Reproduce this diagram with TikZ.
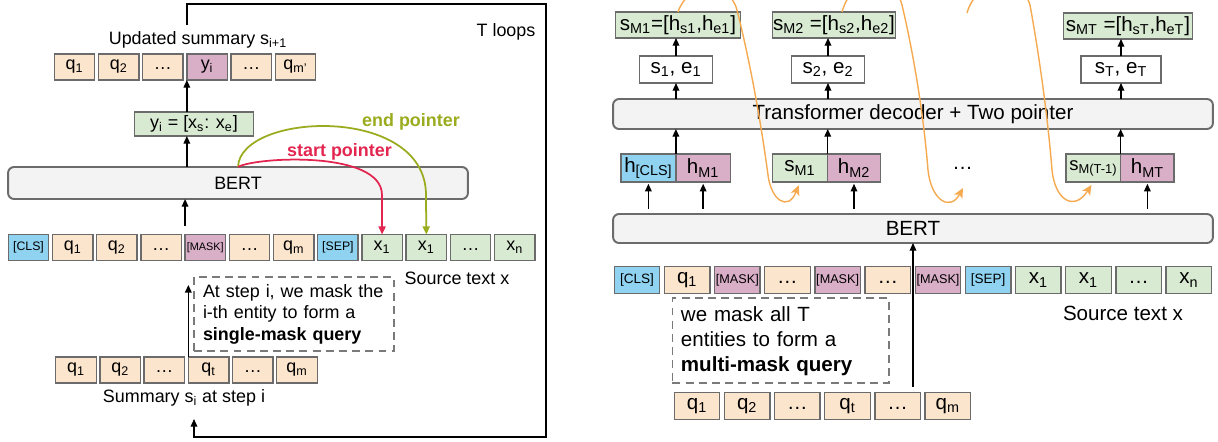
\documentclass[tikz,border=0pt]{standalone}
\usepackage{fontspec}
\setmainfont{Liberation Sans}
\usetikzlibrary{arrows.meta}
\usetikzlibrary{math}
\usetikzlibrary{positioning}

\definecolor{cpeach}{HTML}{FCE5CD}
\definecolor{cplum}{HTML}{D9AFC8}
\definecolor{csky}{HTML}{8FD3F1}
\definecolor{cmint}{HTML}{D9EAD3}
\definecolor{cgrey}{HTML}{F3F3F3}
\definecolor{cedge}{HTML}{6B6B6B}
\definecolor{cdash}{HTML}{7A7A7A}
\definecolor{cred}{HTML}{E3264F}
\definecolor{colive}{HTML}{9AAB1E}
\definecolor{corange}{HTML}{F5AA50}

\newcommand{\fontL}{\fontsize{10.2}{12.2}\selectfont}
\newcommand{\fontR}{\fontsize{11.7}{14.2}\selectfont}
\newcommand{\tagL}{\fontsize{7}{8}\selectfont}
\newcommand{\maskL}{\fontsize{6.2}{7}\selectfont}
\newcommand{\tagR}{\fontsize{7.7}{8}\selectfont}
\newcommand{\maskR}{\fontsize{7.2}{8}\selectfont}
\newcommand{\tsub}[1]{\textsubscript{#1}}
\newcommand{\dotsq}{\vphantom{q\tsub{1}}\dots}

\begin{document}
\begin{tikzpicture}[x=0.02cm, y=-0.02cm]
\tikzset{
  base/.style={draw=cedge, line width=0.8pt, inner sep=0pt, outer sep=0pt, align=center},
  tokl/.style={base, minimum width=0.81cm, minimum height=0.52cm, font=\fontL},
  tokr/.style={base, minimum width=0.91cm, minimum height=0.54cm, font=\fontR},
  hbox/.style={base, minimum height=0.56cm, font=\fontR},
  bar/.style={base, rounded corners=0.12cm, fill=cgrey, line width=1.1pt},
  note/.style={draw=cdash, line width=1pt, dash pattern=on 4.5pt off 3pt, inner ysep=0pt, align=left},
  arr/.style={-{Triangle[length=4.4pt, width=3.8pt]}, line width=0.8pt},
  curl/.style={-{Stealth[length=5.6pt, width=5.2pt, inset=1.4pt]}, draw=corange, line width=0.8pt},
  ptr/.style={-{Triangle[length=4.6pt, width=4pt]}, line width=1pt},
}

\useasboundingbox (0,0) rectangle (1218,441);
\clip (0,0) rectangle (1218,441);

\tikzmath{\p=44.2; \q=50.17;}

% left: single-mask loop
\node[font=\fontL] (upd) at (198, 40) {Updated summary s\tsub{i+1}};
\node[font=\fontL] (tl) at (506, 32) {T loops};

\node[tokl, fill=cpeach] (u1) at (74.5, 67) {q\tsub{1}};
\node[tokl, fill=cpeach] (u2) at ({74.5+\p}, 67) {q\tsub{2}};
\node[tokl, fill=cpeach] (u3) at ({74.5+2*\p}, 67) {\dotsq};
\node[tokl, fill=cplum] (u4) at ({74.5+3*\p}, 67) {y\tsub{i}};
\node[tokl, fill=cpeach] (u5) at ({74.5+4*\p}, 67) {\dotsq};
\node[tokl, fill=cpeach] (u6) at ({74.5+5*\p}, 67) {q\tsub{m'}};

\node[base, fill=cmint, minimum width=2.38cm, minimum height=0.48cm, font=\fontL] (yi) at (194, 124) {y\tsub{i} = [x\tsub{s}: x\tsub{e}]};

\node[bar, minimum width=9.2cm, minimum height=0.64cm, font=\fontL] (lbert) at (238, 183) {BERT};

\node[tokl, fill=csky, font=\tagL] (k1) at (28.5, 247.5) {[CLS]};
\node[tokl, fill=cpeach] (k2) at ({28.5+\p}, 247.5) {q\tsub{1}};
\node[tokl, fill=cpeach] (k3) at ({28.5+2*\p}, 247.5) {q\tsub{2}};
\node[tokl, fill=cpeach] (k4) at ({28.5+3*\p}, 247.5) {\dotsq};
\node[tokl, fill=cplum, font=\maskL] (k5) at ({28.5+4*\p}, 247.5) {[MASK]};
\node[tokl, fill=cpeach] (k6) at ({28.5+5*\p}, 247.5) {\dotsq};
\node[tokl, fill=cpeach] (k7) at ({28.5+6*\p}, 247.5) {q\tsub{m}};
\node[tokl, fill=csky, font=\tagL] (k8) at ({28.5+7*\p}, 247.5) {[SEP]};
\node[tokl, fill=cmint] (k9) at ({28.5+8*\p}, 247.5) {x\tsub{1}};
\node[tokl, fill=cmint] (k10) at ({28.5+9*\p}, 247.5) {x\tsub{1}};
\node[tokl, fill=cmint] (k11) at ({28.5+10*\p}, 247.5) {\dotsq};
\node[tokl, fill=cmint] (k12) at ({28.5+11*\p}, 247.5) {x\tsub{n}};

\node[font=\fontL] (lsrc) at (457, 278) {Source text x};

\node[note, font=\fontL, text width=3.64cm, inner xsep=0.18cm, minimum height=1.48cm] (ldash) at (294, 314)
  {At step i, we mask the\\ i-th entity to form a\\ \textbf{single-mask query}};

\node[tokl, fill=cpeach] (b1) at (76, 370) {q\tsub{1}};
\node[tokl, fill=cpeach] (b2) at ({76+\p}, 370) {q\tsub{2}};
\node[tokl, fill=cpeach] (b3) at ({76+2*\p}, 370) {\dotsq};
\node[tokl, fill=cpeach] (b4) at ({76+3*\p}, 370) {q\tsub{t}};
\node[tokl, fill=cpeach] (b5) at ({76+4*\p}, 370) {\dotsq};
\node[tokl, fill=cpeach] (b6) at ({76+5*\p}, 370) {q\tsub{m}};

\node[font=\fontL] (lsum) at (184, 398) {Summary s\tsub{i} at step i};

\node[font=\fontL\bfseries, text=cred] (stxt) at (339.5, 152) {start pointer};
\node[font=\fontL\bfseries, text=colive] (etxt) at (411, 122) {end pointer};

\coordinate (ltop) at (546, 4);
\coordinate (lbot) at (546, 437);
\coordinate (lpin) at (194, 419);

\draw[arr] (yi.north -| u4.west) -- (u4.south west);
\draw[arr] (lbert.north -| u4.west) -- (yi.south -| u4.west);
\draw[arr, shorten <=5pt] (k5.north west) -- (lbert.south -| k5.north west);
\draw[arr, shorten >=5pt] (b4.north west) -- (b4.north west |- ldash.north);
\draw[arr] (upd.north -| u4.west) |- (ltop) -- (lbot) -| (lpin);

\draw[ptr, draw=colive] (lbert.north) .. controls (240,112) and (426,104) .. (426,195) -- (k10.north);
\draw[ptr, draw=cred] (lbert.north) .. controls (255,157) and (382,150) .. (382,195) -- (k9.north);

% right: multi-mask query
\node[base, fill=cmint, minimum width=2.51cm, minimum height=0.52cm, font=\fontR] (m1) at (678, 25) {s\tsub{M1}=[h\tsub{s1},h\tsub{e1}]};
\node[base, fill=cmint, minimum width=2.45cm, minimum height=0.52cm, font=\fontR] (m2) at (834, 25) {s\tsub{M2} =[h\tsub{s2},h\tsub{e2}]};
\node[base, fill=cmint, minimum width=2.59cm, minimum height=0.52cm, font=\fontR] (m3) at (1128, 26) {s\tsub{MT} =[h\tsub{sT},h\tsub{eT}]};

\node[base, fill=white, minimum width=1.47cm, minimum height=0.54cm, font=\fontR] (e1) at (676, 69.5) {s\tsub{1}, e\tsub{1}};
\node[base, fill=white, minimum width=1.47cm, minimum height=0.54cm, font=\fontR] (e2) at (828, 69.5) {s\tsub{2}, e\tsub{2}};
\node[base, fill=white, minimum width=1.6cm, minimum height=0.54cm, font=\fontR] (e3) at (1121, 69.5) {s\tsub{T}, e\tsub{T}};

\node[bar, minimum width=12cm, minimum height=0.6cm, font=\fontR] (rdec) at (913, 114) {Transformer decoder + Two pointer};

\node[hbox, fill=csky, minimum width=1.1cm] (h1) at (648.4, 168) {h\tsub{[CLS]}};
\node[hbox, fill=cplum, minimum width=1.09cm, right=0pt of h1] (h2) {h\tsub{M1}};
\node[hbox, fill=cmint, minimum width=1.11cm] (h3) at (800, 168) {s\tsub{M1}};
\node[hbox, fill=cplum, minimum width=1.05cm, right=0pt of h3] (h4) {h\tsub{M2}};
\node[hbox, fill=cmint, minimum width=1.09cm, font=\fontsize{10.5}{12}\selectfont] (h5) at (1093.4, 168) {s\tsub{M(T-1)}};
\node[hbox, fill=cplum, minimum width=1.07cm, right=0pt of h5] (h6) {h\tsub{MT}};
\node[font=\fontR] (rdots) at (962.7, 166) {\dotsq};

\node[bar, minimum width=12cm, minimum height=0.58cm, font=\fontR] (rbert) at (913, 228.5) {BERT};

\node[tokr, fill=csky, font=\tagR] (r1) at (637, 280) {[CLS]};
\node[tokr, fill=cpeach] (r2) at ({637+\q}, 280) {q\tsub{1}};
\node[tokr, fill=cplum, font=\maskR] (r3) at ({637+2*\q}, 280) {[MASK]};
\node[tokr, fill=cpeach] (r4) at ({637+3*\q}, 280) {\dotsq};
\node[tokr, fill=cplum, font=\maskR] (r5) at ({637+4*\q}, 280) {[MASK]};
\node[tokr, fill=cpeach] (r6) at ({637+5*\q}, 280) {\dotsq};
\node[tokr, fill=cplum, font=\maskR] (r7) at ({637+6*\q}, 280) {[MASK]};
\node[tokr, fill=csky, font=\tagR] (r8) at ({637+7*\q}, 280) {[SEP]};
\node[tokr, fill=cmint] (r9) at ({637+8*\q}, 280) {x\tsub{1}};
\node[tokr, fill=cmint] (r10) at ({637+9*\q}, 280) {x\tsub{1}};
\node[tokr, fill=cmint] (r11) at ({637+10*\q}, 280) {\dotsq};
\node[tokr, fill=cmint] (r12) at ({637+11*\q}, 280) {x\tsub{n}};

\node[font=\fontR] (rsrc) at (1123, 313) {Source text x};

\node[note, font=\fontR, text width=3.99cm, inner xsep=0.17cm, minimum height=1.7cm] (rdash) at (780.7, 340.8)
  {we mask all T\\ entities to form a\\ \textbf{multi-mask query}};

\node[tokr, fill=cpeach] (c1) at (697, 406) {q\tsub{1}};
\node[tokr, fill=cpeach] (c2) at ({697+\q}, 406) {q\tsub{2}};
\node[tokr, fill=cpeach] (c3) at ({697+2*\q}, 406) {\dotsq};
\node[tokr, fill=cpeach] (c4) at ({697+3*\q}, 406) {q\tsub{t}};
\node[tokr, fill=cpeach] (c5) at ({697+4*\q}, 406) {\dotsq};
\node[tokr, fill=cpeach] (c6) at ({697+5*\q}, 406) {q\tsub{m}};

\draw[arr] (e1.north) -- (e1.north |- m1.south);
\draw[arr] (e2.north) -- (e2.north |- m2.south);
\draw[arr] (e3.north) -- (e3.north |- m3.south);
\draw[arr] (rdec.north -| e1) -- (e1.south);
\draw[arr] (rdec.north -| e2) -- (e2.south);
\draw[arr] (rdec.north -| e3) -- (e3.south);
\draw[arr] (h1.north east) -- (rdec.south -| h1.north east);
\draw[arr] (h3.north east) -- (rdec.south -| h3.north east);
\draw[arr] (h5.north east) -- (rdec.south -| h5.north east);
\draw[arr, shorten <=3pt, shorten >=1pt] (rbert.north -| h1) -- (h1.south);
\draw[arr, shorten <=3pt, shorten >=1pt] (rbert.north -| h2) -- (h2.south);
\draw[arr, shorten <=3pt, shorten >=1pt] (rbert.north -| h4) -- (h4.south);
\draw[arr, shorten <=3pt, shorten >=1pt] (rbert.north -| h6) -- (h6.south);
\draw[arr, shorten <=3pt] (c5.north -| rbert.south) -- (rbert.south);

\coordinate (dotstop) at (967, 13);
\coordinate (tipb) at (963, 188);
\draw[curl, shorten >=2pt] (m1.north) .. controls (688,-18) and (728,-22) .. (737,10)
  .. controls (752,70) and (762,130) .. (768,175) .. controls (771,200) and (788,212) .. (h3.south);
\draw[curl] ([xshift=0.16cm]m2.north) .. controls (852,-25) and (893,-30) .. (902,5)
  .. controls (915,60) and (924,120) .. (928,170) .. controls (931,200) and (950,212) .. (tipb);
\draw[curl, shorten >=2pt] (dotstop) .. controls (977,-22) and (1020,-28) .. (1030,5)
  .. controls (1040,60) and (1048,120) .. (1052,170) .. controls (1055,200) and (1074,212) .. (h5.south);
\end{tikzpicture}
\end{document}
